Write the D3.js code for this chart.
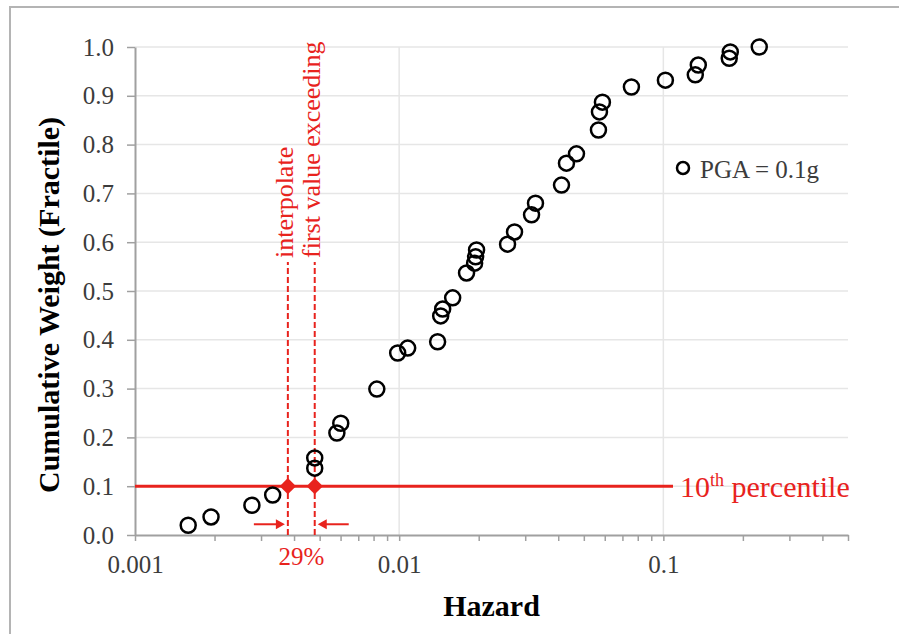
<!DOCTYPE html>
<html>
<head>
<meta charset="utf-8">
<script src="https://cdn.jsdelivr.net/npm/d3@7"></script>
<style>
  body { margin: 0; background: #fff; }
  svg text { font-family: "Liberation Serif", "Times New Roman", serif; }
</style>
</head>
<body>
<svg id="chart" width="899" height="634"></svg>
<script>
//----------------
// Data
//----------------

const hazard = [0.00159, 0.00194, 0.00277, 0.00332, 0.00479, 0.00479, 0.00581, 0.00601,
  0.00823, 0.00987, 0.01077, 0.01398, 0.01436, 0.01461, 0.01594, 0.01799, 0.01930,
  0.01947, 0.01963, 0.02572, 0.02733, 0.03170, 0.03281, 0.04116, 0.04298, 0.04690,
  0.05680, 0.05730, 0.05880, 0.07570, 0.10180, 0.13210, 0.13560, 0.17760, 0.17920, 0.23070];
const weight = [0.020, 0.037, 0.061, 0.082, 0.137, 0.158, 0.209, 0.229, 0.299, 0.373,
  0.383, 0.396, 0.449, 0.463, 0.486, 0.537, 0.557, 0.570, 0.584, 0.596, 0.621, 0.656,
  0.680, 0.717, 0.762, 0.781, 0.830, 0.867, 0.887, 0.918, 0.932, 0.943, 0.963, 0.977,
  0.990, 1.000];

const xDomain = [0.001, 0.5];
const xLabels = [0.001, 0.01, 0.1];
const yTicks = [0, 0.1, 0.2, 0.3, 0.4, 0.5, 0.6, 0.7, 0.8, 0.9, 1.0];

const percentile = 0.1;
const interpX = 0.00379;     // interpolated hazard
const exceedX = 0.00479;     // first value exceeding
const arrowY = 0.022;
const interpLabel = "29%";
const seriesName = "PGA = 0.1g";

//----------------
// Costants
//----------------

const width = 899, height = 634;
const margin = {top: 47, right: 51, bottom: 99, left: 135};
const red = "#e8231d";
const gridColor = "#e6e6e6";
const axisColor = "#a0a0a0";

const svg = d3.select("#chart");

// frame
svg.append("rect")
  .attr("x", 10).attr("y", 7)
  .attr("width", 920).attr("height", 700)
  .attr("fill", "none")
  .attr("stroke", "#b4b4b4")
  .attr("stroke-width", 2);

const x = d3.scaleLog()
  .domain(xDomain)
  .range([margin.left, width - margin.right]);

const y = d3.scaleLinear()
  .domain([0, 1])
  .range([height - margin.bottom, margin.top]);

const x0 = x.range()[0], x1 = x.range()[1];
const y0 = y.range()[0], y1 = y.range()[1];

//----------------
// Grid
//----------------

svg.append("g").selectAll("line")
  .data(yTicks.slice(1))
  .enter().append("line")
    .attr("x1", x0).attr("x2", x1)
    .attr("y1", d => y(d)).attr("y2", d => y(d))
    .attr("stroke", gridColor)
    .attr("stroke-width", 1.5);

svg.append("g").selectAll("line")
  .data(xLabels.slice(1))
  .enter().append("line")
    .attr("x1", d => x(d)).attr("x2", d => x(d))
    .attr("y1", y0).attr("y2", y1)
    .attr("stroke", gridColor)
    .attr("stroke-width", 1.5);

//----------------
// Axes
//----------------

// all log ticks 1..9 per decade
var minorTicks = [];
xLabels.forEach(function(p) {
  for (var k = 1; k <= 9; k++) {
    var v = +(p * k).toPrecision(3);
    if (v <= xDomain[1]) minorTicks.push(v);
  }
});

var xAxis = svg.append("g")
  .attr("transform", "translate(0," + y0 + ")")
  .call(d3.axisBottom(x)
    .tickValues(minorTicks)
    .tickSize(6)
    .tickSizeOuter(0)
    .tickPadding(14)
    .tickFormat(d => xLabels.indexOf(d) >= 0 ? d3.format("")(d) : ""));

var yAxis = svg.append("g")
  .attr("transform", "translate(" + x0 + ",0)")
  .call(d3.axisLeft(y)
    .tickValues(yTicks)
    .tickSize(8)
    .tickSizeOuter(0)
    .tickPadding(13)
    .tickFormat(d3.format(".1f")));

[xAxis, yAxis].forEach(function(a) {
  a.select(".domain").attr("stroke", axisColor).attr("stroke-width", 2);
  a.selectAll(".tick line").attr("stroke", axisColor).attr("stroke-width", 1.5);
  a.selectAll(".tick text")
    .attr("fill", "#3c3c3c")
    .style("font-size", "25px");
});
xAxis.selectAll(".tick text").attr("dy", "0.72em");

// axis titles
svg.append("text")
  .attr("x", (x0 + x1) / 2)
  .attr("y", 616)
  .attr("text-anchor", "middle")
  .style("font-size", "30px")
  .style("font-weight", "bold")
  .text("Hazard");

svg.append("text")
  .attr("transform", "translate(59," + ((y0 + y1) / 2 + 14) + ") rotate(-90)")
  .attr("text-anchor", "middle")
  .style("font-size", "30px")
  .style("font-weight", "bold")
  .text("Cumulative Weight (Fractile)");

//----------------
// Annotations
//----------------

var notes = svg.append("g").attr("id", "notes");

// 10th percentile line
notes.append("line")
  .attr("x1", x0).attr("x2", 673)
  .attr("y1", y(percentile)).attr("y2", y(percentile))
  .attr("stroke", red)
  .attr("stroke-width", 3);

var pct = notes.append("text")
  .attr("x", 680)
  .attr("y", y(percentile) + 11)
  .attr("fill", red)
  .style("font-size", "30px");
pct.append("tspan").text("10");
pct.append("tspan").attr("dy", -11).style("font-size", "18px").text("th");
pct.append("tspan").attr("dy", 11).text(" percentile");

// dashed verticals + rotated labels
var verticals = [
  {value: interpX, label: "interpolate"},
  {value: exceedX, label: "first value exceeding"}
];

notes.selectAll(".vline")
  .data(verticals)
  .enter().append("line")
    .attr("class", "vline")
    .attr("x1", d => x(d.value)).attr("x2", d => x(d.value))
    .attr("y1", y0).attr("y2", 262)
    .attr("stroke", red)
    .attr("stroke-width", 2)
    .attr("stroke-dasharray", "6,3");

notes.selectAll(".vlabel")
  .data(verticals)
  .enter().append("text")
    .attr("class", "vlabel")
    .attr("transform", d => "translate(" + (x(d.value) + 5) + ",258) rotate(-90)")
    .attr("fill", red)
    .style("font-size", "26px")
    .text(d => d.label);

// diamonds
notes.selectAll(".diamond")
  .data(verticals)
  .enter().append("path")
    .attr("class", "diamond")
    .attr("transform", d => "translate(" + x(d.value) + "," + y(percentile) + ")")
    .attr("d", d3.symbol().type(d3.symbolDiamond2).size(170))
    .attr("fill", red);

// arrows pointing at the two verticals
var arrows = [
  {tip: x(interpX) - 3, dir: 1},
  {tip: x(exceedX) + 3, dir: -1}
];
var ay = y(arrowY);

notes.selectAll(".arrow-line")
  .data(arrows)
  .enter().append("line")
    .attr("x1", d => d.tip - d.dir * 31)
    .attr("x2", d => d.tip - d.dir * 6)
    .attr("y1", ay).attr("y2", ay)
    .attr("stroke", red)
    .attr("stroke-width", 2);

notes.selectAll(".arrow-head")
  .data(arrows)
  .enter().append("path")
    .attr("d", d => "M" + d.tip + "," + ay +
      "L" + (d.tip - d.dir * 9) + "," + (ay - 5) +
      "L" + (d.tip - d.dir * 9) + "," + (ay + 5) + "Z")
    .attr("fill", red);

notes.append("text")
  .attr("x", (x(interpX) + x(exceedX)) / 2)
  .attr("y", 565)
  .attr("text-anchor", "middle")
  .attr("fill", red)
  .style("font-size", "25px")
  .text(interpLabel);

//----------------
// Points
//----------------

var points = d3.zip(hazard, weight);

svg.append("g").selectAll("circle")
  .data(points)
  .enter().append("circle")
    .attr("cx", d => x(d[0]))
    .attr("cy", d => y(d[1]))
    .attr("r", 7.5)
    .attr("fill", "none")
    .attr("stroke", "#000")
    .attr("stroke-width", 2.5);

//----------------
// Legend
//----------------

var legend = svg.append("g").attr("transform", "translate(683,168)");
legend.append("circle")
  .attr("r", 6)
  .attr("fill", "none")
  .attr("stroke", "#000")
  .attr("stroke-width", 2.5);
legend.append("text")
  .attr("x", 17)
  .attr("y", 10)
  .attr("fill", "#3c3c3c")
  .style("font-size", "25px")
  .text(seriesName);
</script>
</body>
</html>
